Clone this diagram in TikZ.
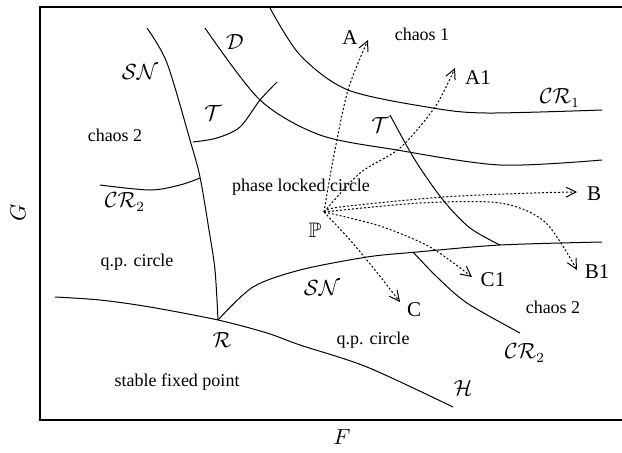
\documentclass[tikz,border=0pt]{standalone}
\usepackage{amssymb}
\usepackage{fontspec}
\setmainfont{Liberation Serif}
\usetikzlibrary{arrows.meta}

\begin{document}
\begin{tikzpicture}[x=0.5pt,y=-0.5pt,
    bif/.style={line width=0.5pt},
    route/.style={line width=0.5pt,dash pattern=on 1pt off 1pt,-{Straight Barb[length=5pt,width=5pt]}},
    region/.style={font=\fontsize{9}{10}\selectfont},
    curvelbl/.style={font=\fontsize{10.5}{12}\selectfont},
    endlbl/.style={font=\fontsize{10.5}{12}\selectfont}]
  \useasboundingbox (0,0) rectangle (622,452);
  % frame, open on the right
  \draw[line width=0.8pt] (622,7) -- (40,7) -- (40,420) -- (622,420);
  \coordinate (R) at (218,320);
  \coordinate (P) at (324,212);
  % bifurcation curves
  \draw[bif] plot[smooth] coordinates
    {(147,28) (167,63) (190,140) (200,177) (209,230) (215,270) (R)};
  \draw[bif] plot[smooth] coordinates
    {(205,28) (260,100) (320,135) (397,150) (500,165) (602,160)};
  \draw[bif] plot[smooth] coordinates
    {(270,8) (300,55) (348,90) (433,108) (487,113) (602,110)};
  \draw[bif] plot[smooth] coordinates
    {(193,142) (217,138) (240,127) (260,100) (277,82)};
  \draw[bif] plot[smooth] coordinates
    {(100,185) (150,190) (180,185) (200,178)};
  \draw[bif] plot[smooth] coordinates
    {(390,115) (415,160) (443,200) (470,228) (500,245)};
  \draw[bif] plot[smooth] coordinates
    {(R) (253,287) (300,270) (367,257) (417,252) (500,245) (602,242)};
  \draw[bif] plot[smooth] coordinates
    {(413,252) (437,277) (467,303) (520,333)};
  \draw[bif] plot[smooth] coordinates
    {(55,297) (100,300) (150,307) (R) (267,333) (300,345) (367,367) (453,407)};
  % routes leaving P
  \draw[route] plot[smooth] coordinates {(P) (333,160) (348,90) (368,40)};
  \draw[route] plot[smooth] coordinates {(P) (360,173) (400,148) (435,107) (455,68)};
  \draw[route] plot[smooth] coordinates {(P) (340,207) (443,197) (533,193) (577,192)};
  \draw[route] plot[smooth] coordinates {(P) (420,203) (500,203) (545,222) (577,270)};
  \draw[route] plot[smooth] coordinates {(P) (380,226) (430,247) (472,277)};
  \draw[route] plot[smooth] coordinates {(P) (350,240) (375,270) (400,302)};
  % curve labels
  \node[curvelbl] (snTop) at (140,72) {$\mathcal{SN}$};
  \node[curvelbl] (dTop) at (235,42) {$\mathcal{D}$};
  \node[curvelbl] (tLeft) at (213,113) {$\mathcal{T}$};
  \node[curvelbl] (crLeft) at (125,202) {$\mathcal{CR}_2$};
  \node[curvelbl] (tRight) at (380,125) {$\mathcal{T}$};
  \node[curvelbl] (crTop) at (560,98) {$\mathcal{CR}_1$};
  \node[curvelbl] (snLow) at (322,288) {$\mathcal{SN}$};
  \node[curvelbl] (crRight) at (525,353) {$\mathcal{CR}_2$};
  \node[curvelbl] (hLow) at (463,388) {$\mathcal{H}$};
  \node[curvelbl] (rPt) at (222,340) {$\mathcal{R}$};
  \node[curvelbl] (pPt) at (315,230) {$\mathbb{P}$};
  % region labels
  \node[region] (chaosOne) at (422,34) {chaos 1};
  \node[region] (chaosTwoL) at (115,135) {chaos 2};
  \node[region] (locked) at (301,187) {phase locked circle};
  \node[region] (qpL) at (137,262) {q.p. circle};
  \node[region] (fixed) at (177,382) {stable fixed point};
  \node[region] (qpR) at (373,340) {q.p. circle};
  \node[region] (chaosTwoR) at (553,307) {chaos 2};
  % route ends
  \node[endlbl] (endA) at (350,38) {A};
  \node[endlbl] (endAone) at (478,78) {A1};
  \node[endlbl] (endB) at (594,194) {B};
  \node[endlbl] (endBone) at (597,272) {B1};
  \node[endlbl] (endCone) at (493,280) {C1};
  \node[endlbl] (endC) at (414,310) {C};
  % axes
  \node[curvelbl] (fAxis) at (342,437) {$F$};
  \node[curvelbl,rotate=90] (gAxis) at (18,213) {$G$};
\end{tikzpicture}
\end{document}
